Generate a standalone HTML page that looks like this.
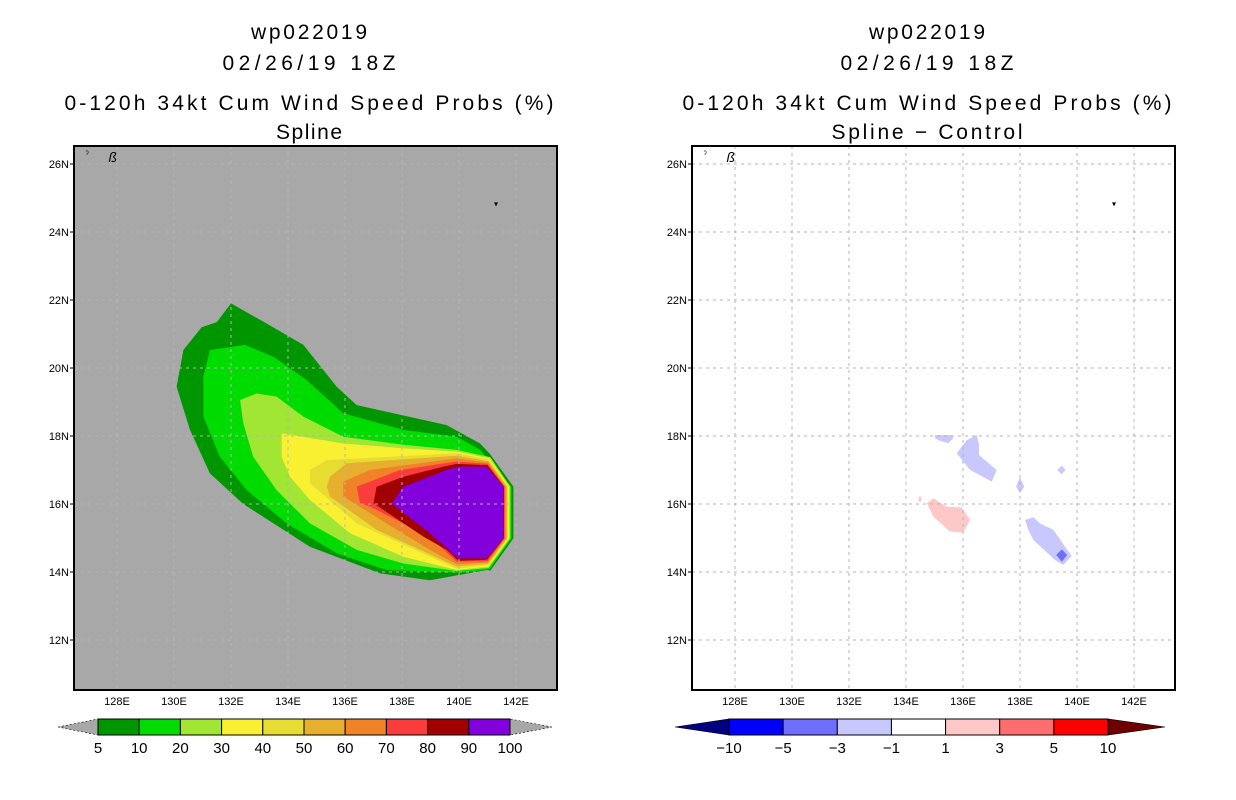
<!DOCTYPE html>
<html><head><meta charset="utf-8"><style>
html,body{margin:0;padding:0;background:#fff;}
svg{display:block;font-family:"Liberation Sans",sans-serif;}
</style></head><body>
<svg id="chart" width="1236" height="800" viewBox="0 0 1236 800" xmlns="http://www.w3.org/2000/svg"></svg>
<script>
// ---------- data ----------
const lonTicks = [128,130,132,134,136,138,140,142];
const latTicks = [12,14,16,18,20,22,24,26];
const probLevels = ["5","10","20","30","40","50","60","70","80","90","100"];
const probColors = ["#009600","#00dc00","#a0e632","#faf032","#e6dc32","#e6af2d","#f08228","#fa3c3c","#a00000","#8200dc"];
const diffLevels = ["-10","-5","-3","-1","1","3","5","10"];
const diffColors = ["#0000ff","#6e6eff","#c8c8ff","#ffffff","#ffc8c8","#ff6e6e","#ff0000"];
// contour polygons (lon, lat) for probability bands
const prob5 = [[132.0,21.9],[133.25,21.31],[134.54,20.68],[135.71,19.45],[136.41,18.91],[139.57,18.32],[140.74,17.78],[141.1,17.46],[141.91,16.51],[141.91,14.99],[141.1,14.04],[140.97,14.06],[138.98,13.76],[137.23,13.96],[134.77,14.74],[132.43,16.0],[131.26,16.9],[130.56,18.18],[130.09,19.45],[130.33,20.53],[130.97,21.2],[131.5,21.35]];
const prob10 = [[131.26,20.53],[132.49,20.68],[133.49,20.33],[134.65,19.65],[135.94,18.67],[138.05,18.18],[139.92,17.98],[140.74,17.59],[141.84,16.51],[141.84,14.99],[141.07,14.08],[140.04,13.98],[137.46,14.06],[135.71,14.55],[133.95,15.43],[132.55,16.41],[131.61,17.39],[131.03,18.57],[131.03,19.75]];
const prob20 = [[132.32,19.06],[132.9,19.25],[133.6,19.16],[134.54,18.57],[135.94,17.98],[138.05,17.74],[139.92,17.59],[141.1,17.38],[141.8,16.51],[141.8,14.99],[141.05,14.12],[139.92,14.03],[138.05,14.25],[136.41,14.65],[134.77,15.43],[133.6,16.41],[132.78,17.39],[132.43,18.37]];
const prob30 = [[133.78,18.08],[135.94,17.78],[138.05,17.64],[139.92,17.54],[141.07,17.34],[141.76,16.51],[141.76,14.99],[141.03,14.16],[139.92,14.06],[138.05,14.45],[136.18,15.14],[134.77,16.12],[134.07,16.8],[133.78,17.39]];
const prob40 = [[134.77,17.0],[135.36,17.29],[139.92,17.49],[141.05,17.3],[141.72,16.51],[141.72,14.99],[141.03,14.2],[139.92,14.1],[136.41,15.43],[134.77,16.61]];
const prob50 = [[135.47,16.8],[136.06,17.2],[139.92,17.42],[141.04,17.26],[141.68,16.51],[141.68,14.99],[141.02,14.24],[139.92,14.16],[137.11,15.24],[135.47,16.22],[135.36,16.51]];
const prob60 = [[135.94,16.66],[136.88,17.0],[139.92,17.34],[141.02,17.22],[141.64,16.51],[141.64,14.99],[141.01,14.28],[139.92,14.23],[138.98,14.65],[137.46,15.43],[135.94,16.22]];
const prob70 = [[136.41,16.51],[137.93,17.0],[139.92,17.25],[141.01,17.18],[141.6,16.51],[141.6,14.99],[141.0,14.32],[139.92,14.3],[139.22,14.84],[138.05,15.43],[136.88,15.92],[136.53,16.02]];
const prob80 = [[137.11,16.51],[138.05,16.8],[139.45,17.1],[139.92,17.18],[141.0,17.14],[141.58,16.51],[141.58,14.99],[140.98,14.36],[139.98,14.33],[139.57,14.65],[138.75,15.04],[137.0,16.02]];
const prob90 = [[139.98,17.1],[140.97,17.1],[141.56,16.51],[141.56,14.99],[140.97,14.4],[139.98,14.4],[138.98,15.14],[137.64,16.02],[138.05,16.51],[139.57,17.0]];
// difference blobs
const diffA = [[135.02,18.03],[135.6,18.03],[135.66,17.93],[135.48,17.79],[135.19,17.86],[135.02,17.93]];
const diffB = [[136.48,18.03],[136.56,17.74],[136.56,17.44],[137.18,17.0],[137.01,16.66],[136.25,17.0],[135.78,17.49],[136.13,17.88]];
const diffC = [[138.0,16.79],[138.15,16.51],[138.0,16.33],[137.86,16.51]];
const diffD = [[139.46,17.13],[139.6,17.0],[139.46,16.87],[139.31,17.0]];
const diffE = [[138.18,15.53],[138.47,15.61],[138.7,15.43],[139.17,15.24],[139.81,14.47],[139.52,14.21],[139.23,14.35],[138.47,14.94],[138.29,15.24]];
const diffE2 = [[139.47,14.67],[139.65,14.5],[139.47,14.3],[139.27,14.5]];
const diffP1 = [[134.49,16.25],[134.55,16.14],[134.49,16.03],[134.43,16.14]];
const diffP2 = [[134.73,16.02],[134.96,16.17],[135.43,15.92],[135.95,15.9],[136.25,15.53],[136.01,15.16],[135.54,15.19],[134.96,15.63]];

// ---------- drawing ----------
const NS="http://www.w3.org/2000/svg";
const svg=document.getElementById('chart');
function mk(tag,attrs,parent){const e=document.createElementNS(NS,tag);for(const k in attrs)e.setAttribute(k,attrs[k]);(parent||svg).appendChild(e);return e;}
const frameTop=146, frameBot=690, frameW=483;
function xScale(ox){return lon=>ox+(231-74)+(lon-132)*28.5;}
function yScale(lat){return 368-(lat-20)*34;}
function pts(poly,xs){return poly.map(p=>xs(p[0]).toFixed(1)+','+yScale(p[1]).toFixed(1)).join(' ');}

function panel(ox,name,bg,titleLines,cx,widths){
  const g=mk('g',{});
  
  
  const ys=[39,70,110,139];
  titleLines.forEach((t,i)=>{
    const tx=mk('text',{x:cx,y:ys[i],'text-anchor':'middle','font-size':21,fill:'#000',textLength:widths[i],lengthAdjust:'spacing'},g);
    
    
    tx.textContent=t;
  });
  const r=mk('rect',{x:ox,y:frameTop,width:frameW,height:frameBot-frameTop,fill:bg},g);
  
  
  return g;
}
function grid(g,ox,xs){
  const gg=mk('g',{},g);
  
  
  lonTicks.forEach(l=>{
    const x=xs(l);
    const ln=mk('line',{x1:x,x2:x,y1:frameTop,y2:frameBot,stroke:'#b4b4b4','stroke-width':1,'stroke-dasharray':'3,4'},gg);
    
    
    const t=mk('text',{x:x,y:705,'text-anchor':'middle','font-size':11,fill:'#000'},gg);
    
    
    t.textContent=l+'E';
  });
  latTicks.forEach(l=>{
    const y=yScale(l);
    const ln=mk('line',{x1:ox,x2:ox+frameW,y1:y,y2:y,stroke:'#b4b4b4','stroke-width':1,'stroke-dasharray':'3,4'},gg);
    
    
    mk('line',{x1:ox-4,x2:ox,y1:y,y2:y,stroke:'#000'},gg);
    const t=mk('text',{x:ox-5,y:y+4,'text-anchor':'end','font-size':11,fill:'#000'},gg);
    
    
    t.textContent=l+'N';
  });
}
function frame(g,ox,xs){
  const i1=mk('text',{x:xs(126.9),y:157,'font-size':9,fill:'#000'},g); i1.textContent='\u02c0';
  
  
  const i2=mk('text',{x:xs(127.7),y:162,'font-size':14,'font-style':'italic',fill:'#000'},g); i2.textContent='\u00df';
  
  
  const i3=mk('text',{x:xs(141.3),y:yScale(24.75),'font-size':8,'text-anchor':'middle',fill:'#000'},g); i3.textContent='\u25be';
  
  
  const f=mk('rect',{x:ox,y:frameTop,width:frameW,height:frameBot-frameTop,fill:'none',stroke:'#000','stroke-width':2},g);
  
  
}

// Left panel
const oxL=74, xsL=xScale(oxL);
const gL=panel(oxL,'spline-probability-panel','#a8a8a8',['wp022019','02/26/19 18Z','0-120h 34kt Cum Wind Speed Probs (%)','Spline'],309,[116,173,489,66]);
const probPolys=[prob5,prob10,prob20,prob30,prob40,prob50,prob60,prob70,prob80,prob90];
probPolys.forEach((p,i)=>{
  const pg=mk('polygon',{points:pts(p,xsL),fill:probColors[i]},gL);
  
  
});
grid(gL,oxL,xsL);
frame(gL,oxL,xsL);

// Right panel
const oxR=692, xsR=xScale(oxR);
const gR=panel(oxR,'spline-minus-control-panel','#ffffff',['wp022019','02/26/19 18Z','0-120h 34kt Cum Wind Speed Probs (%)','Spline \u2212 Control'],927,[116,173,489,191]);
[[diffA,2],[diffB,2],[diffC,2],[diffD,2],[diffE,2],[diffE2,1],[diffP1,4],[diffP2,4]].forEach(([p,c])=>{
  const pg=mk('polygon',{points:pts(p,xsR),fill:diffColors[c]},gR);
  
  
});
grid(gR,oxR,xsR);
frame(gR,oxR,xsR);

// Colorbars
function colorbar(name,x0,x1,tipL,tipR,colors,labels,tipLC,tipRC){
  const g=mk('g',{});
  
  
  const y0=719,y1=735,ym=727;
  const tl=mk('polygon',{points:`${tipL},${ym} ${x0},${y0} ${x0},${y1}`,fill:tipLC,stroke:'#000','stroke-width':0.6,'stroke-dasharray':tipLC=='#a8a8a8'?'2,2':'none'},g);
  
  
  const tr=mk('polygon',{points:`${tipR},${ym} ${x1},${y0} ${x1},${y1}`,fill:tipRC,stroke:'#000','stroke-width':0.6,'stroke-dasharray':tipRC=='#a8a8a8'?'2,2':'none'},g);
  
  
  const w=(x1-x0)/colors.length;
  colors.forEach((c,i)=>{
    const r=mk('rect',{x:x0+i*w,y:y0,width:w,height:y1-y0,fill:c,stroke:'#000','stroke-width':1},g);
    
    
  });
  labels.forEach((l,i)=>{
    const t=mk('text',{x:x0+i*w,y:753,'text-anchor':'middle','font-size':15,fill:'#000'},g);
    
    
    t.textContent=l.replace('-','\u2212');
  });
}
colorbar('probability-colorbar',98,510,58,552,probColors,probLevels,'#a8a8a8','#a8a8a8');
colorbar('difference-colorbar',729,1108,675,1165,diffColors,diffLevels,'#000080','#700000');
</script>
</body></html>
